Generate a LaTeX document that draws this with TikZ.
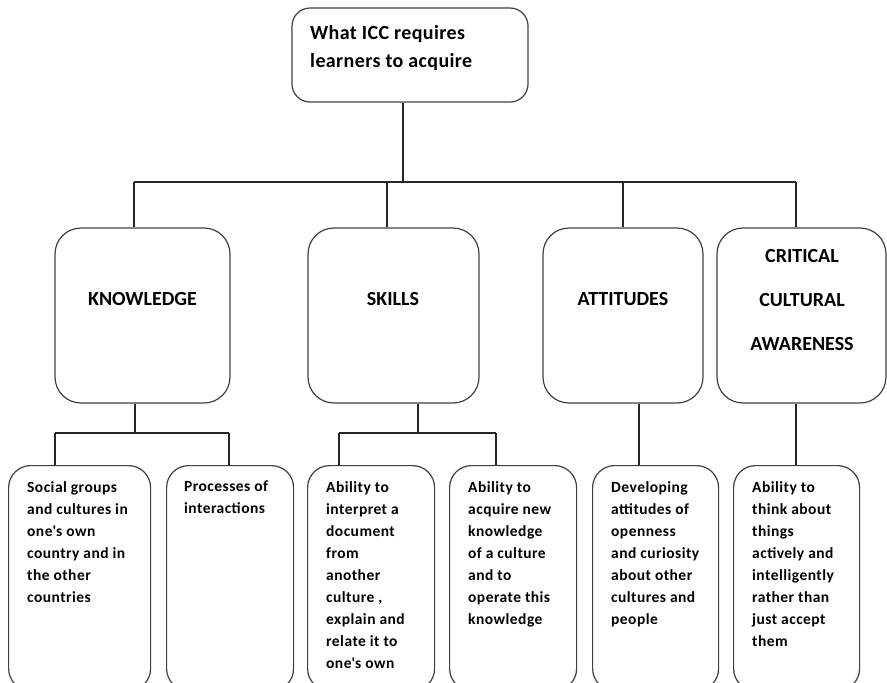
\documentclass[tikz,border=0pt]{standalone}
\usepackage{fontspec}
\setmainfont{Carlito}
\newcommand{\apos}{\textquotesingle}
\begin{document}
\begin{tikzpicture}[x=1pt,y=-1pt,
  line/.style={line width=1.2pt, draw=black!85},
  bigbox/.style={draw=black!75, line width=1.2pt, rounded corners=26pt, inner sep=0pt},
  topbox/.style={draw=black!75, line width=1.2pt, rounded corners=18pt, inner sep=0pt},
  leafbox/.style={draw=black!75, line width=1.2pt, rounded corners=22pt, inner sep=0pt},
  head/.style={font=\fontsize{20}{28}\selectfont\bfseries, align=center, inner sep=0pt},
  leaftext/.style={font=\fontsize{15.5}{22}\selectfont\bfseries\addfontfeatures{LetterSpace=3}, align=left, anchor=north west, inner sep=0pt}
]
\useasboundingbox (0,0) rectangle (887,683);
\clip (0,0) rectangle (887,683);

% top box
\node[topbox, minimum width=236pt, minimum height=94pt] (top) at (410,55) {};
\node[head, font=\fontsize{20}{28}\selectfont\bfseries\addfontfeatures{LetterSpace=2}, align=left, anchor=north west] (toptext) at (310,25) {What ICC requires\\learners to acquire};

% big boxes
\node[bigbox, minimum width=175pt, minimum height=175pt] (k) at (142.5,315.5) {};
\node[bigbox, minimum width=171pt, minimum height=175pt] (s) at (393.5,315.5) {};
\node[bigbox, minimum width=160pt, minimum height=175pt] (a) at (623,315.5) {};
\node[bigbox, minimum width=169pt, minimum height=175pt] (c) at (801.5,315.5) {};

\node[head] (kt) at (142.5,299) {KNOWLEDGE};
\node[head] (st) at (393,299) {SKILLS};
\node[head] (at) at (623,299) {ATTITUDES};
\node[head, font=\fontsize{20}{44}\selectfont\bfseries] (ct) at (802,300) {CRITICAL\\CULTURAL\\AWARENESS};

% leaf boxes
\node[leafbox, minimum width=142pt, minimum height=225pt, anchor=north west] (l1) at (8,465) {};
\node[leafbox, minimum width=127pt, minimum height=225pt, anchor=north west] (l2) at (166,465) {};
\node[leafbox, minimum width=127pt, minimum height=225pt, anchor=north west] (l3) at (307,465) {};
\node[leafbox, minimum width=127pt, minimum height=225pt, anchor=north west] (l4) at (449,465) {};
\node[leafbox, minimum width=126pt, minimum height=225pt, anchor=north west] (l5) at (592,465) {};
\node[leafbox, minimum width=126pt, minimum height=225pt, anchor=north west] (l6) at (733,465) {};

\node[leaftext] (t1) at (27,481) {Social groups\\and cultures in\\one\apos s own\\country and in\\the other\\countries};
\node[leaftext] (t2) at (184,481) {Processes of\\interactions};
\node[leaftext] (t3) at (326,481) {Ability to\\interpret a\\document\\from\\another\\culture ,\\explain and\\relate it to\\one\apos s own};
\node[leaftext] (t4) at (468,481) {Ability to\\acquire new\\knowledge\\of a culture\\and to\\operate this\\knowledge};
\node[leaftext] (t5) at (611,481) {Developing\\attitudes of\\openness\\and curiosity\\about other\\cultures and\\people};
\node[leaftext] (t6) at (752,481) {Ability to\\think about\\things\\actively and\\intelligently\\rather than\\just accept\\them};

% top bus
\coordinate (b0) at (403,182);
\coordinate (bk) at (134,182);
\coordinate (bs) at (387,182);
\coordinate (ba) at (623,182);
\coordinate (bc) at (796,182);
\draw[line] (b0 |- top.south) -- (b0);
\draw[line] (bk) -- (bc);
\draw[line] (bk) -- (bk |- k.north);
\draw[line] (bs) -- (bs |- s.north);
\draw[line] (ba) -- (ba |- a.north);
\draw[line] (bc) -- (bc |- c.north);

% knowledge bus
\coordinate (kb) at (135,433);
\coordinate (kb1) at (55,433);
\coordinate (kb2) at (229,433);
\draw[line] (kb |- k.south) -- (kb);
\draw[line] (kb1) -- (kb2);
\draw[line] (kb1) -- (kb1 |- l1.north);
\draw[line] (kb2) -- (kb2 |- l2.north);

% skills bus
\coordinate (sb) at (418,433);
\coordinate (sb1) at (339,433);
\coordinate (sb2) at (496,433);
\draw[line] (sb |- s.south) -- (sb);
\draw[line] (sb1) -- (sb2);
\draw[line] (sb1) -- (sb1 |- l3.north);
\draw[line] (sb2) -- (sb2 |- l4.north);

% attitudes / critical
\coordinate (ab) at (639,433);
\coordinate (cb) at (796,433);
\draw[line] (ab |- a.south) -- (ab |- l5.north);
\draw[line] (cb |- c.south) -- (cb |- l6.north);
\end{tikzpicture}
\end{document}
